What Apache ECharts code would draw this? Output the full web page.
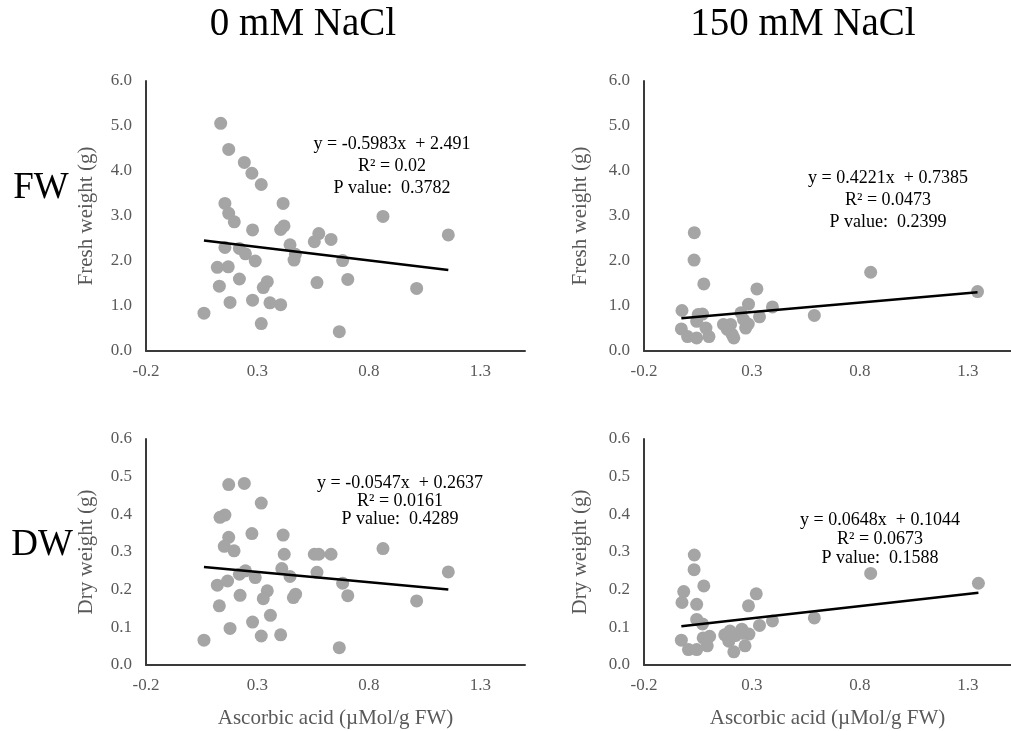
<!DOCTYPE html>
<html><head><meta charset="utf-8">
<script src="https://cdn.jsdelivr.net/npm/echarts@6/dist/echarts.min.js"></script>
<style>html,body{margin:0;padding:0;background:#fff}#c{width:1011px;height:731px}</style>
</head><body><div id="c"></div>
<script>
// ---- data ----
const fw0X = [0.135,0.171,0.241,0.275,0.317,0.154,0.415,0.171,0.196,0.863,0.278,0.404,0.419,1.156,0.575,0.555,0.630,0.154,0.219,0.246,0.446,0.470,0.464,0.290,0.682,0.120,0.169,0.219,0.705,0.129,0.344,0.326,0.567,1.014,0.177,0.278,0.356,0.404,0.060,0.317,0.667];
const fw0Y = [5.06,4.48,4.19,3.95,3.70,3.28,3.28,3.06,2.87,2.99,2.69,2.70,2.78,2.58,2.61,2.43,2.48,2.30,2.28,2.16,2.36,2.15,2.02,2.00,2.01,1.86,1.87,1.60,1.59,1.44,1.54,1.41,1.52,1.39,1.08,1.13,1.07,1.03,0.84,0.61,0.43];
const fw150X = [0.033,0.032,0.077,0.850,1.345,0.323,0.284,0.395,0.589,0.335,-0.024,0.051,0.071,0.044,0.249,-0.027,0.087,0.002,0.044,0.101,0.168,0.201,0.186,0.208,0.216,0.271,0.283,0.261];
const fw150Y = [2.63,2.02,1.49,1.75,1.32,1.38,1.04,0.98,0.79,0.76,0.90,0.81,0.82,0.66,0.85,0.49,0.51,0.32,0.29,0.32,0.59,0.59,0.48,0.37,0.29,0.51,0.60,0.70];
const dw0X = [0.171,0.241,0.317,0.132,0.154,0.171,0.275,0.415,0.151,0.195,0.420,0.555,0.575,0.630,0.863,1.156,0.409,0.567,0.246,0.219,0.290,0.446,0.120,0.166,0.682,0.344,0.326,0.222,0.471,0.461,0.705,0.129,1.014,0.358,0.278,0.177,0.317,0.404,0.060,0.667];
const dw0Y = [0.479,0.482,0.430,0.392,0.398,0.339,0.349,0.345,0.315,0.303,0.294,0.294,0.294,0.294,0.309,0.247,0.256,0.246,0.250,0.241,0.232,0.235,0.212,0.223,0.217,0.197,0.176,0.185,0.188,0.179,0.184,0.157,0.170,0.132,0.114,0.097,0.077,0.080,0.066,0.046];
const dw150X = [0.033,0.032,0.077,-0.016,-0.024,0.044,0.320,0.284,0.850,1.349,0.589,0.395,0.335,0.044,0.071,-0.027,0.006,0.044,0.074,0.093,0.104,0.174,0.198,0.193,0.216,0.223,0.253,0.268,0.286,0.258];
const dw150Y = [0.292,0.253,0.210,0.195,0.166,0.161,0.189,0.157,0.243,0.217,0.125,0.117,0.105,0.121,0.109,0.066,0.041,0.041,0.072,0.051,0.076,0.080,0.090,0.063,0.035,0.078,0.095,0.051,0.082,0.084];

const slopes = [-0.5983, 0.4221, -0.0547, 0.0648];
const intercepts = [2.491, 0.7385, 0.2637, 0.1044];
const eqTexts = ['y = -0.5983x  + 2.491', 'y = 0.4221x  + 0.7385', 'y = -0.0547x  + 0.2637', 'y = 0.0648x  + 0.1044'];
const r2Texts = ['R² = 0.02', 'R² = 0.0473', 'R² = 0.0161', 'R² = 0.0673'];
const pTexts = ['P value:  0.3782', 'P value:  0.2399', 'P value:  0.4289', 'P value:  0.1588'];
const colTitles = ['0 mM NaCl', '150 mM NaCl'];
const rowTitles = ['FW', 'DW'];
const yNames = ['Fresh weight (g)', 'Fresh weight (g)', 'Dry weight (g)', 'Dry weight (g)'];
const xName = 'Ascorbic acid (\u00b5Mol/g FW)';
const xTicks = [-0.2, 0.3, 0.8, 1.3];
const yMax = [6, 6, 0.6, 0.6];
const yStep = [1, 1, 0.1, 0.1];

// ---- chart ----
const SERIF = '"Liberation Serif", "DejaVu Serif", serif';
const sets = [[fw0X, fw0Y], [fw150X, fw150Y], [dw0X, dw0Y], [dw150X, dw150Y]];
const grids = [
  {left: 146, top: 81, width: 379, height: 270},
  {left: 644, top: 81, width: 379, height: 270},
  {left: 146, top: 439, width: 379, height: 226},
  {left: 644, top: 439, width: 379, height: 226}
];
const axisLine = {show: true, onZero: false, lineStyle: {color: '#3a3a3a', width: 2}};
const labelStyle = {color: '#595959', fontFamily: SERIF, fontSize: 17};

const xAxes = [], yAxes = [], series = [];
for (let i = 0; i < 4; i++) {
  xAxes.push({
    type: 'value', gridIndex: i, min: -0.2, max: 1.5, interval: 0.1,
    axisLine: axisLine, axisTick: {show: false}, splitLine: {show: false},
    axisLabel: Object.assign({margin: 12, showMaxLabel: false, formatter: function (v) {
      for (const t of xTicks) { if (Math.abs(v - t) < 1e-6) return t.toFixed(1); }
      return '';
    }}, labelStyle),
    name: i >= 2 ? xName : '', nameLocation: 'middle', nameGap: 43,
    nameTextStyle: {color: '#595959', fontFamily: SERIF, fontSize: 21}
  });
  yAxes.push({
    type: 'value', gridIndex: i, min: 0, max: yMax[i], interval: yStep[i],
    axisLine: axisLine, axisTick: {show: false}, splitLine: {show: false},
    axisLabel: Object.assign({margin: 14, formatter: v => v.toFixed(1)}, labelStyle),
    name: yNames[i], nameLocation: 'middle', nameGap: (i % 2 === 0) ? 49 : 53,
    nameTextStyle: {color: '#595959', fontFamily: SERIF, fontSize: 21}
  });
  const xs = sets[i][0], ys = sets[i][1];
  series.push({
    type: 'scatter', xAxisIndex: i, yAxisIndex: i, symbolSize: 13, z: 2,
    itemStyle: {color: '#A5A5A5', opacity: 1},
    data: xs.map((x, k) => [x, ys[k]])
  });
  const xmin = Math.min(...xs), xmax = Math.max(...xs);
  series.push({
    type: 'line', xAxisIndex: i, yAxisIndex: i, symbol: 'none', z: 3,
    lineStyle: {color: '#000', width: 2.5},
    data: [[xmin, slopes[i] * xmin + intercepts[i]], [xmax, slopes[i] * xmax + intercepts[i]]]
  });
}

function txt(t, x, y, size, color) {
  return {type: 'text', x: x, y: y, silent: true,
    style: {text: t, fill: color || '#000', font: size + 'px ' + SERIF,
      align: 'center', verticalAlign: 'middle', textAlign: 'center', textVerticalAlign: 'middle'}};
}
const eqPos = [[392, 144], [888, 178], [400, 483], [880, 520]];
const graphics = [
  txt(colTitles[0], 303, 25, 39), txt(colTitles[1], 803, 25, 39),
  txt(rowTitles[0], 41, 188, 37), txt(rowTitles[1], 42, 545, 37)
];
for (let i = 0; i < 4; i++) {
  const gap = i === 2 ? 18 : (i === 3 ? 19 : 22);
  graphics.push(txt(eqTexts[i], eqPos[i][0], eqPos[i][1], 18));
  graphics.push(txt(r2Texts[i], eqPos[i][0], eqPos[i][1] + gap, 18));
  graphics.push(txt(pTexts[i], eqPos[i][0], eqPos[i][1] + 2 * gap, 18));
}

const chart = echarts.init(document.getElementById('c'), null, {renderer: 'canvas'});
chart.setOption({
  animation: false,
  backgroundColor: '#fff',
  grid: grids,
  xAxis: xAxes,
  yAxis: yAxes,
  series: series,
  graphic: graphics
});
</script>
</body></html>
